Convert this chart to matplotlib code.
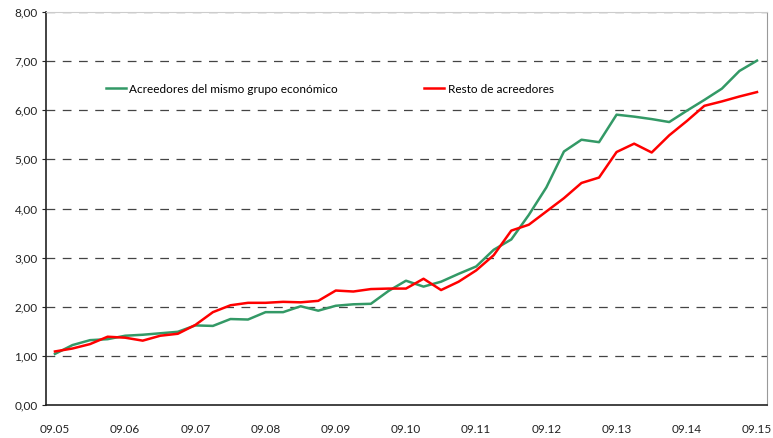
import numpy as np
import matplotlib.pyplot as plt
from matplotlib.ticker import FuncFormatter

# quarterly series, 09.05 -> 09.15
grupo = [1.04, 1.22, 1.32, 1.34, 1.41, 1.43, 1.46, 1.49, 1.62, 1.61,
         1.75, 1.74, 1.89, 1.89, 2.01, 1.92, 2.02, 2.05, 2.06, 2.32,
         2.53, 2.41, 2.51, 2.67, 2.82, 3.16, 3.37, 3.87, 4.43, 5.16,
         5.40, 5.35, 5.91, 5.87, 5.82, 5.76, 5.99, 6.21, 6.44, 6.80,
         7.01]
resto = [1.09, 1.15, 1.24, 1.39, 1.37, 1.31, 1.41, 1.45, 1.63, 1.89,
         2.03, 2.08, 2.08, 2.10, 2.09, 2.12, 2.33, 2.31, 2.36, 2.37,
         2.37, 2.57, 2.34, 2.51, 2.74, 3.05, 3.55, 3.67, 3.94, 4.21,
         4.52, 4.63, 5.15, 5.32, 5.14, 5.49, 5.78, 6.09, 6.18, 6.28,
         6.37]
year_labels = ['09.05', '09.06', '09.07', '09.08', '09.09', '09.10',
               '09.11', '09.12', '09.13', '09.14', '09.15']

plt.rcParams['font.family'] = ['Lato', 'DejaVu Sans']

fig = plt.figure(figsize=(7.73, 4.38), dpi=100)
ax = fig.add_axes([46 / 773, 1 - 405 / 438, (767 - 46) / 773, (405 - 12) / 438])

x = np.arange(len(grupo))
ax.plot(x, grupo, color='#339966', lw=1.8, label='Acreedores del mismo grupo económico', zorder=3)
ax.plot(x, resto, color='#ff0000', lw=1.8, label='Resto de acreedores', zorder=4)

ax.set_xlim(-0.51, 40.57)
ax.set_ylim(0, 8)
ax.set_yticks(np.arange(0, 9))
ax.yaxis.set_major_formatter(FuncFormatter(lambda v, p: f'{v:.2f}'.replace('.', ',')))
ax.set_xticks(np.arange(0, len(grupo), 4))
ax.set_xticklabels(year_labels)
ax.tick_params(axis='x', length=0, pad=14, labelsize=8.5, colors='#222222')
ax.tick_params(axis='y', length=3, width=0.8, pad=3, labelsize=8.5, colors='#222222')

for v in range(1, 9):
    ax.axhline(v, color='#444444', lw=0.9, ls=(0, (7, 6)), zorder=1)

ax.spines['left'].set_color('#222222')
ax.spines['bottom'].set_color('#222222')
ax.spines['left'].set_linewidth(1.2)
ax.spines['bottom'].set_linewidth(1.2)
ax.spines['top'].set_color('#cccccc')
ax.spines['right'].set_color('#999999')

ax.legend(ncol=2, loc='center left', bbox_to_anchor=(0.076, 0.804), frameon=False,
          fontsize=8.5, handlelength=1.7, handletextpad=0.3, columnspacing=7.3,
          borderaxespad=0)

fig.savefig('out.png', dpi=100)
